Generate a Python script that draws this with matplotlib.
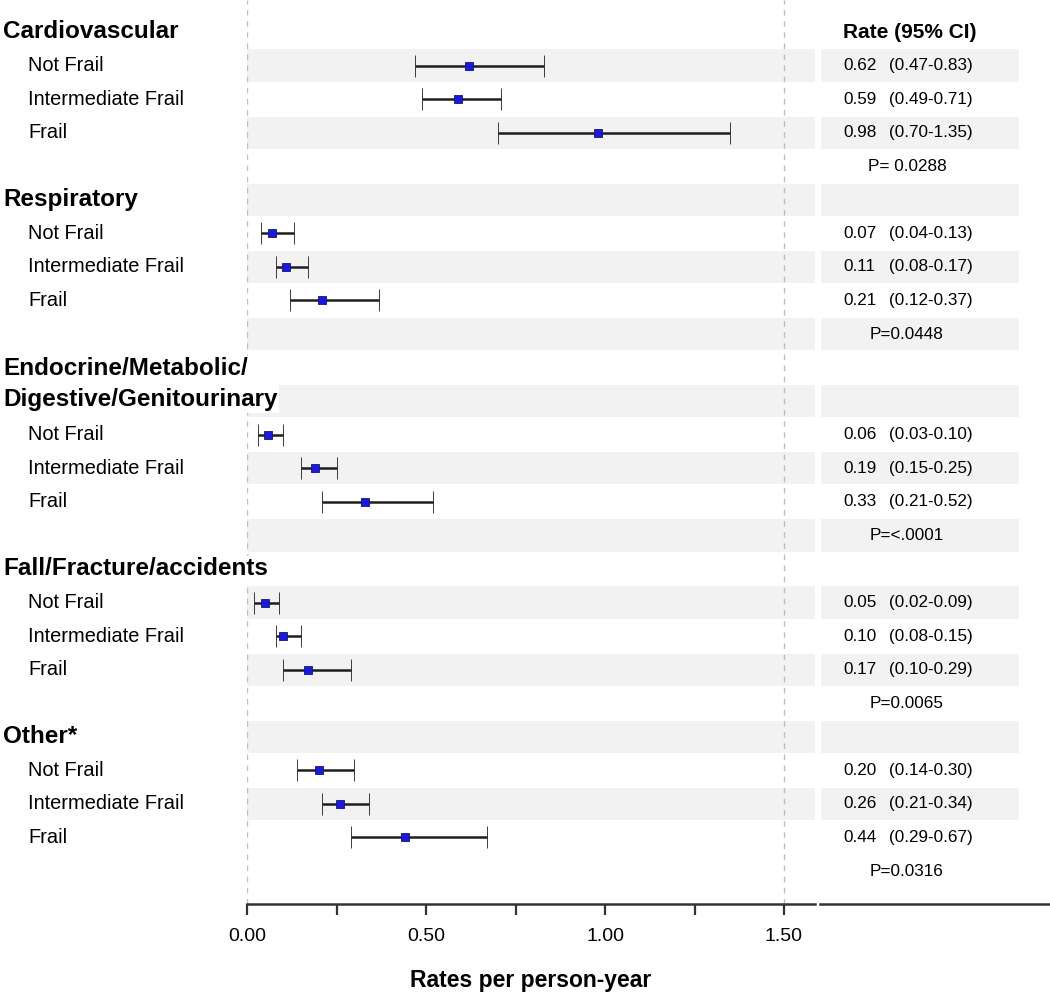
import numpy as np
import matplotlib
matplotlib.use("Agg")
import matplotlib.pyplot as plt
import matplotlib.transforms as mtransforms

plt.rcParams['font.family'] = ['Liberation Sans', 'DejaVu Sans']

# ---- data -------------------------------------------------------------
categories = ['Cardiovascular', 'Respiratory',
              'Endocrine/Metabolic/\nDigestive/Genitourinary',
              'Fall/Fracture/accidents', 'Other*']
groups = ['Not Frail', 'Intermediate Frail', 'Frail']

rate = [[0.62, 0.59, 0.98],
        [0.07, 0.11, 0.21],
        [0.06, 0.19, 0.33],
        [0.05, 0.10, 0.17],
        [0.20, 0.26, 0.44]]
ci_lo = [[0.47, 0.49, 0.70],
         [0.04, 0.08, 0.12],
         [0.03, 0.15, 0.21],
         [0.02, 0.08, 0.10],
         [0.14, 0.21, 0.29]]
ci_hi = [[0.83, 0.71, 1.35],
         [0.13, 0.17, 0.37],
         [0.10, 0.25, 0.52],
         [0.09, 0.15, 0.29],
         [0.30, 0.34, 0.67]]
p_text = ['P= 0.0288', 'P=0.0448', 'P=<.0001', 'P=0.0065', 'P=0.0316']

xticks = [0.0, 0.25, 0.5, 0.75, 1.0, 1.25, 1.5]
xticklabels = ['0.00', '', '0.50', '', '1.00', '', '1.50']

# ---- row layout -------------------------------------------------------
rows_y, rows_v, rows_lo, rows_hi = [], [], [], []
header_rows, group_rows, p_rows = [], [], []
r = 0
for c, name in enumerate(categories):
    nlines = name.count('\n') + 1
    header_rows.append((r, name))
    r += nlines
    for g in range(3):
        group_rows.append((r, groups[g]))
        rows_y.append(r)
        rows_v.append(rate[c][g])
        rows_lo.append(ci_lo[c][g])
        rows_hi.append(ci_hi[c][g])
        r += 1
    p_rows.append((r, p_text[c]))
    r += 1
n_rows = r

W, H = 1050, 997
fig = plt.figure(figsize=(W / 100, H / 100), dpi=100)

row0_px, row_px, axis_px = 32, 33.56, 904
ytop = -row0_px / row_px
ybot = (axis_px - row0_px) / row_px

ax = fig.add_axes([247 / W, 1 - axis_px / H, (815 - 247) / W, axis_px / H])
ax2 = fig.add_axes([820 / W, 1 - axis_px / H, (W - 820) / W, axis_px / H])

ax.set_xlim(0, (815 - 247) / 358)
ax.set_ylim(ybot, ytop)
ax2.set_xlim(0, W - 820)
ax2.set_ylim(ybot, ytop)

# alternate shading, last (p-value) row left white
band = '#f2f2f2'
for k in range(1, n_rows - 1, 2):
    ax.axhspan(k - 0.48, k + 0.48, color=band, lw=0, zorder=0)
    ax2.axhspan(k - 0.48, k + 0.48, xmin=1 / 230, xmax=199 / 230,
                color=band, lw=0, zorder=0)

for xv in (0.0, 1.5):
    ax.axvline(xv, color='#bdbdbd', lw=1, ls=(0, (4, 4)), zorder=1)

ax.errorbar(rows_v, rows_y,
            xerr=[np.array(rows_v) - np.array(rows_lo),
                  np.array(rows_hi) - np.array(rows_v)],
            fmt='s', color='#1a1ad8', mec='#12127a', mew=0.6, ms=6,
            ecolor='#1e1e1e', elinewidth=1.8, capsize=8, capthick=1.8,
            zorder=3)

for a in (ax, ax2):
    for s in ('top', 'left', 'right'):
        a.spines[s].set_visible(False)
    a.spines['bottom'].set_color('#333333')
    a.spines['bottom'].set_linewidth(1.8)
    a.set_yticks([])

ax.set_xticks(xticks)
ax.set_xticklabels(xticklabels, fontsize=14)
ax.tick_params(axis='x', length=8, width=1.6, color='#333333', pad=9)
ax2.set_xticks([])

# left-hand labels
tr = mtransforms.blended_transform_factory(fig.transFigure, ax.transData)
for rr, name in header_rows:
    nlines = name.count('\n') + 1
    ax.text(3 / W, rr + (nlines - 1) / 2, name, transform=tr, fontsize=17.5,
            fontweight='bold', va='center', ha='left', linespacing=1.45,
            clip_on=False, zorder=6,
            bbox=dict(facecolor='white', edgecolor='none', pad=1))
for rr, name in group_rows:
    ax.text(28 / W, rr, name, transform=tr, fontsize=14.4, va='center',
            ha='left', clip_on=False, zorder=6)

# right-hand table
ax2.text(23, header_rows[0][0], 'Rate (95% CI)', fontsize=15,
         fontweight='bold', va='center', ha='left')
for yy, v, lo, hi in zip(rows_y, rows_v, rows_lo, rows_hi):
    ax2.text(23, yy, f'{v:.2f}', fontsize=12.3, va='center', ha='left')
    ax2.text(69, yy, f'({lo:.2f}-{hi:.2f})', fontsize=12.3, va='center',
             ha='left')
for rr, txt in p_rows:
    ax2.text(87, rr, txt, fontsize=12.3, va='center', ha='center')

fig.text(531 / W, 1 - 980 / H, 'Rates per person-year', fontsize=16.5,
         fontweight='bold', ha='center', va='center')

fig.savefig('out.png', dpi=100)
